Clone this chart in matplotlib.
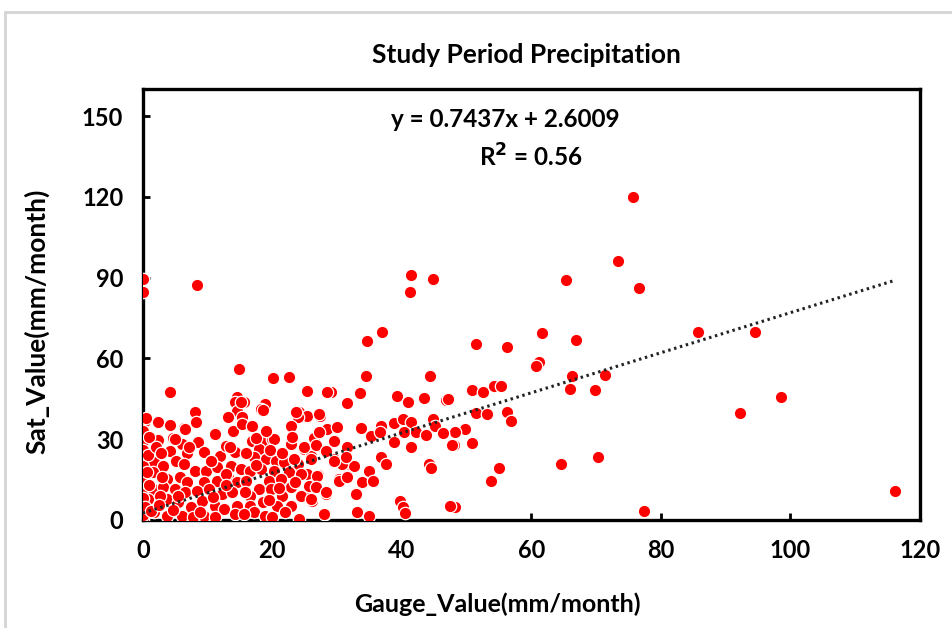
import numpy as np
import matplotlib.pyplot as plt
from matplotlib.patches import Rectangle

# values (mm/month)
gauge_sparse = [75.7, 73.4, 41.5, 44.8, 41.2, 65.4, 76.6, 34.6, 36.9, 51.4, 56.2, 61.6, 66.9, 61.2, 60.8,
                85.8, 94.6, 66.3, 71.4, 66.0, 69.8, 92.2, 98.6, 64.6, 70.3, 77.4, 116.2,
                50.9, 52.5, 54.3, 55.4, 51.5, 53.1, 56.2, 56.9, 49.8, 48.3, 50.8, 48.0, 55.1, 53.8, 48.3, 47.5]
sat_sparse = [120.0, 96.3, 91.0, 89.6, 84.6, 89.3, 86.3, 66.5, 69.8, 65.2, 64.4, 69.5, 67.0, 58.7, 57.2,
              70.0, 70.0, 53.5, 53.7, 48.5, 48.3, 39.6, 45.6, 20.7, 23.5, 3.3, 10.7,
              48.1, 47.4, 49.6, 49.6, 39.6, 39.3, 40.0, 36.7, 33.7, 32.6, 28.5, 28.0, 19.3, 14.4, 4.8, 5.2]

gauge_mid = [34.5, 44.3, 33.5, 31.5, 39.2, 40.9, 43.4, 46.8, 47.2, 33.7, 35.2, 36.8, 36.6, 38.8, 40.2,
             41.4, 38.8, 40.3, 42.2, 43.7, 44.9, 45.2, 46.3, 47.8, 41.5, 31.5, 36.8, 37.5, 44.2, 44.5,
             31.2, 32.6, 31.4, 34.9, 33.8, 35.5, 32.9, 33.1, 34.9, 39.8, 40.2, 40.5,
             25.4, 24.5, 27.4, 30.0, 27.2, 28.3, 29.5, 26.5, 24.9, 26.9, 28.5, 26.0, 29.5, 30.8, 24.0,
             25.4, 27.1, 30.3, 31.5, 26.8, 24.9, 26.2, 28.3, 32.9, 28.2,
             14.9, 20.1, 22.6, 4.2, 25.4, 29.1, 14.6, 15.7, 18.8, 0.0, 0.0, 8.3]
sat_mid = [53.3, 53.3, 47.0, 43.3, 45.9, 44.0, 45.2, 44.4, 44.8, 34.1, 31.1, 34.8, 32.6, 35.9, 37.4,
           36.3, 28.9, 32.6, 32.6, 31.5, 37.4, 34.8, 32.2, 27.8, 27.0, 27.0, 23.3, 20.7, 20.7, 19.3,
           20.0, 20.0, 16.3, 18.1, 14.0, 14.4, 10.0, 3.0, 1.5, 7.0, 4.8, 2.6,
           38.1, 39.3, 38.5, 34.4, 32.2, 33.7, 29.6, 30.4, 26.3, 27.4, 25.6, 23.7, 22.6, 20.7, 20.7,
           17.0, 16.7, 15.2, 16.3, 12.6, 8.9, 7.0, 9.6, 9.6, 2.2,
           56.0, 52.6, 53.0, 47.4, 47.8, 47.4, 45.6, 43.7, 43.0, 89.5, 84.6, 87.2]

gauge_dense = [8.0, 8.2, 14.2, 14.5, 13.1, 15.4, 0.3, 2.3, 4.2, 6.3, 11.1, 14.0, 0.0, 2.3, 6.0, 8.5,
               4.2, 6.8, 9.5, 12.0, 14.2, 0.2, 1.8, 3.1, 5.2, 6.3, 8.0, 9.8, 11.5, 13.7, 15.2,
               0.3, 1.5, 3.8, 5.7, 6.9, 9.5, 11.4, 13.1, 14.6, 0.0, 1.5, 3.1, 4.9, 6.5, 8.3, 10.3,
               12.2, 13.8, 0.8, 3.7, 5.4, 7.5, 9.2, 11.1, 12.6, 14.5, 0.0, 1.8, 3.8, 6.0, 7.7, 9.5,
               11.1, 14.2, 0.0,
               15.2, 18.3, 15.4, 24.2, 25.4, 27.2, 24.0, 22.9, 28.5, 30.0, 27.2, 16.9, 18.8, 20.0,
               22.9, 24.9, 26.8, 29.5, 18.0, 17.2, 19.1, 20.6, 21.8, 23.4, 26.0, 28.3, 29.5, 31.4,
               15.2, 16.5, 18.3, 20.3, 22.6, 24.5, 26.9, 30.3, 31.5, 16.0, 19.5, 21.4, 25.7, 18.0,
               19.8, 22.9, 26.8, 28.3, 16.5, 21.5, 24.5, 26.0, 18.5, 20.8, 22.9, 16.5, 17.2, 18.8,
               20.0, 24.2, 28.0, 15.7,
               0.0, 0.0, 0.0, 0.0, 0.0, 0.0, 0.5, 1.0, 0.8, 0.6, 1.0, 0.4, 2.0, 2.6, 1.2, 4.6,
               18.5, 23.7, 6.5, 11.1, 20.3, 28.5, 10.5, 12.8, 16.8, 19.6,
               2.8, 5.0, 7.2, 10.5, 12.8, 3.0, 5.5, 8.8, 10.8, 12.9, 2.5, 4.6, 13.5, 16.0, 17.5,
               19.0, 21.5, 23.0, 21.0, 17.5, 15.8, 23.5, 22.0, 19.5]
sat_dense = [40.0, 36.3, 43.7, 40.4, 38.1, 38.1, 36.7, 36.3, 35.2, 34.0, 32.2, 33.0, 29.3, 29.6, 28.1, 28.9,
             25.6, 24.8, 25.2, 23.7, 25.2, 23.7, 21.5, 20.0, 21.9, 20.7, 18.1, 18.1, 19.6, 20.0, 18.9,
             16.3, 17.8, 15.2, 15.9, 14.1, 14.1, 14.4, 15.9, 14.1, 11.5, 11.5, 12.2, 11.5, 10.4, 10.7, 11.5,
             9.6, 10.4, 7.8, 7.8, 6.7, 4.8, 7.0, 5.2, 4.1, 5.2, 4.1, 3.0, 1.5, 1.5, 1.1, 1.5,
             1.1, 2.2, 0.4,
             43.7, 41.1, 35.6, 40.0, 38.5, 39.3, 38.1, 34.8, 33.7, 34.4, 32.6, 29.3, 29.3, 30.0,
             28.1, 27.0, 27.8, 29.3, 26.3, 23.3, 22.6, 21.9, 21.5, 22.6, 22.6, 25.6, 21.9, 23.3,
             18.9, 18.1, 18.9, 18.1, 17.8, 17.0, 16.3, 14.4, 15.9, 14.4, 14.4, 15.2, 12.6, 11.5,
             11.5, 12.2, 12.2, 10.4, 8.9, 8.9, 8.9, 7.8, 6.7, 5.2, 5.2, 5.2, 3.0, 1.5,
             1.1, 0.4, 2.2, 2.2,
             33.0, 26.0, 20.0, 14.0, 8.0, 2.0, 38.0, 31.0, 24.0, 18.0, 13.0, 5.0, 27.0, 9.0, 3.5, 30.5,
             40.7, 40.0, 33.7, 31.9, 30.0, 47.4, 22.0, 27.5, 35.0, 26.0,
             25.0, 30.0, 27.0, 22.0, 17.0, 16.0, 9.0, 3.0, 8.5, 13.0, 5.5, 3.8, 27.0, 25.0, 30.5,
             33.0, 25.0, 31.0, 12.0, 20.5, 10.5, 14.0, 3.0, 7.5]

gx = np.array(gauge_sparse + gauge_mid + gauge_dense)
sv = np.array(sat_sparse + sat_mid + sat_dense)

slope, intercept = 0.7437, 2.6009

fig = plt.figure(figsize=(9.52, 6.28), dpi=100)
ax = fig.add_axes([0.150, 0.172, 0.816, 0.686])

ax.scatter(gx, sv, s=80, color='#ff0000', edgecolors='white', linewidths=0.9, zorder=3)

xl = np.array([0, gx.max()])
ax.plot(xl, slope * xl + intercept, color='#222222', lw=2.2, linestyle=(0, (0.8, 1.2)), zorder=4)

ax.set_xlim(0, 120)
ax.set_ylim(0, 160)
ax.set_xticks(np.arange(0, 121, 20))
ax.set_yticks(np.arange(0, 151, 30))
ax.tick_params(direction='in', length=5, width=2, labelsize=17, pad=14)
for lbl in ax.get_xticklabels() + ax.get_yticklabels():
    lbl.set_fontweight('bold')
    lbl.set_family('Lato')
for sp in ax.spines.values():
    sp.set_linewidth(2.4)
    sp.set_color('black')

ax.set_xlabel('Gauge_Value(mm/month)', fontsize=18, fontweight='bold', family='Lato')
ax.set_ylabel('Sat_Value(mm/month)', fontsize=19, fontweight='bold', family='Lato')
ax.xaxis.set_label_coords(0.456, -0.168)
ax.yaxis.set_label_coords(-0.12, 0.462)

fig.text(0.553, 0.912, 'Study Period Precipitation', ha='center', va='center',
         fontsize=19, fontweight='bold', family='Lato')
fig.text(0.531, 0.809, 'y = 0.7437x + 2.6009', ha='center', va='center',
         fontsize=17.5, fontweight='bold', family='Lato')
fig.text(0.557, 0.750, 'R$^{\\mathbf{2}}$ = 0.56', ha='center', va='center',
         fontsize=17.5, fontweight='bold', family='Lato')

# faint outer frame of the original figure
fig.patches.append(Rectangle((5 / 952, -0.1), 1.2, 1.1 - 12 / 628, transform=fig.transFigure,
                             fill=False, edgecolor='#d4d4d4', lw=2))

fig.savefig('out.png', dpi=100)
